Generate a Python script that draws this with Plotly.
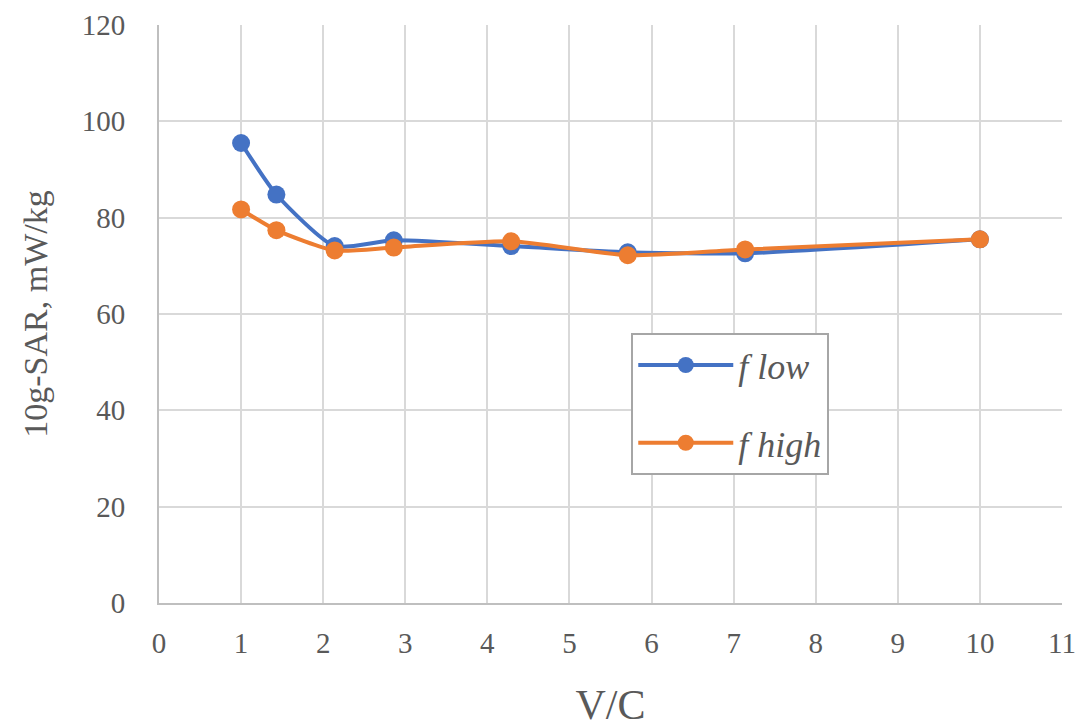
import plotly.graph_objects as go

# V/C ratio values and 10g-SAR (mW/kg) for the two frequencies
vc = [1.0, 1.43, 2.14, 2.86, 4.29, 5.71, 7.14, 10.0]
sar_flow = [95.5, 84.8, 74.1, 75.3, 74.1, 72.8, 72.6, 75.5]
sar_fhigh = [81.7, 77.4, 73.2, 73.8, 75.1, 72.2, 73.4, 75.5]

x_ticks = list(range(0, 12))
y_ticks = list(range(0, 121, 20))

FONT = "Liberation Serif, DejaVu Serif, serif"
TEXT = "#595959"
GRID = "#d9d9d9"

fig = go.Figure()
fig.add_trace(go.Scatter(
    x=vc, y=sar_flow, name="<i>f low</i>", mode="lines+markers",
    legendgroup="flow",
    line=dict(color="#4472c4", width=4, shape="spline", smoothing=0.6),
    marker=dict(size=18, color="#4472c4"),
))
fig.add_trace(go.Scatter(
    x=vc, y=sar_fhigh, name="<i>f high</i>", mode="lines+markers",
    legendgroup="fhigh",
    line=dict(color="#ed7d31", width=4, shape="spline", smoothing=0.6),
    marker=dict(size=18, color="#ed7d31"),
))

fig.update_layout(
    width=1078, height=728,
    margin=dict(l=159, r=16, t=25, b=125),
    paper_bgcolor="white", plot_bgcolor="white",
    font=dict(family=FONT, color=TEXT, size=28),
    legend=dict(
        x=0.523, y=0.467, xanchor="left", yanchor="top",
        bgcolor="white", bordercolor="#a6a6a6", borderwidth=2,
        font=dict(size=36, family=FONT, color=TEXT),
        tracegroupgap=28, itemwidth=95,
    ),
    xaxis=dict(
        range=[0, 11], tickvals=x_ticks, ticktext=[str(v) for v in x_ticks],
        showgrid=True, gridcolor=GRID, gridwidth=2,
        showline=True, linecolor="#bfbfbf", linewidth=2,
        zeroline=False, ticks="", ticklabelstandoff=13, automargin=False,
        tickfont=dict(size=29),
        title=dict(text="V/C", font=dict(size=42, family=FONT, color=TEXT), standoff=38),
    ),
    yaxis=dict(
        range=[0, 120], tickvals=y_ticks,
        showgrid=True, gridcolor=GRID, gridwidth=2,
        showline=True, linecolor="#bfbfbf", linewidth=2,
        zeroline=False, ticks="", ticklabelstandoff=26, automargin=False,
        tickfont=dict(size=29),
        title=dict(text="10g-SAR, mW/kg", font=dict(size=34, family=FONT, color=TEXT), standoff=24),
    ),
)

fig.write_html("out.html")
